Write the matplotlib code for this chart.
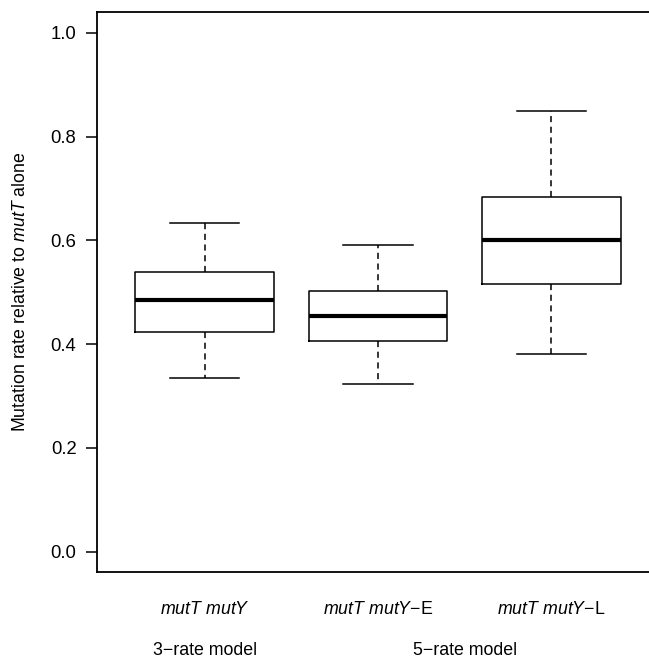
import matplotlib
matplotlib.use("Agg")
import matplotlib.pyplot as plt

plt.rcParams['font.family'] = ['Liberation Sans', 'DejaVu Sans']
plt.rcParams['mathtext.fontset'] = 'custom'
plt.rcParams['mathtext.rm'] = 'Liberation Sans'
plt.rcParams['mathtext.it'] = 'Liberation Sans:italic'

# box statistics
labels = [r"$\mathit{mutT\ mutY}$", r"$\mathit{mutT\ mutY}$−E", r"$\mathit{mutT\ mutY}$−L"]
whislo = [0.335, 0.323, 0.380]
q1 = [0.424, 0.406, 0.516]
med = [0.4845, 0.454, 0.601]
q3 = [0.540, 0.503, 0.684]
whishi = [0.634, 0.592, 0.850]

groups = ["3−rate model", "5−rate model"]
group_pos = [1.0, 2.5]
yticks = [0.0, 0.2, 0.4, 0.6, 0.8, 1.0]

stats = []
for i in range(len(labels)):
    stats.append(dict(whislo=whislo[i], q1=q1[i], med=med[i], q3=q3[i],
                      whishi=whishi[i], fliers=[]))

fig = plt.figure(figsize=(6.49, 6.59), dpi=100)
ax = fig.add_axes([0.1499, 0.1316, 0.8653, 0.8498])

ax.bxp(stats, positions=[1, 2, 3], widths=0.8, showfliers=False,
       boxprops=dict(color='black', linewidth=1.1),
       medianprops=dict(color='black', linewidth=3.0, solid_capstyle='butt'),
       whiskerprops=dict(color='black', linewidth=1.1, linestyle=(0, (4, 3))),
       capprops=dict(color='black', linewidth=1.1), capwidths=0.4)

ax.set_xlim(0.38, 3.62)
ax.set_ylim(-0.04, 1.04)
for s in ax.spines.values():
    s.set_linewidth(1.3)

ax.set_yticks(yticks)
ax.set_yticklabels(["%.1f" % v for v in yticks])
ax.tick_params(axis='y', length=8, width=1.1, pad=7, labelsize=13.3)
ax.set_xticks([])

for i, lab in enumerate(labels):
    ax.text(i + 1, -0.066, lab, ha='center', va='center', fontsize=12.8,
            transform=ax.get_xaxis_transform())
for g, p in zip(groups, group_pos):
    ax.text(p, -0.14, g, ha='center', va='center', fontsize=12.8,
            transform=ax.get_xaxis_transform())

ax.set_ylabel(r"Mutation rate relative to $\mathit{mutT}$ alone", fontsize=12.8)
ax.yaxis.set_label_coords(-0.122, 0.5)

fig.savefig("out.png", dpi=100)
